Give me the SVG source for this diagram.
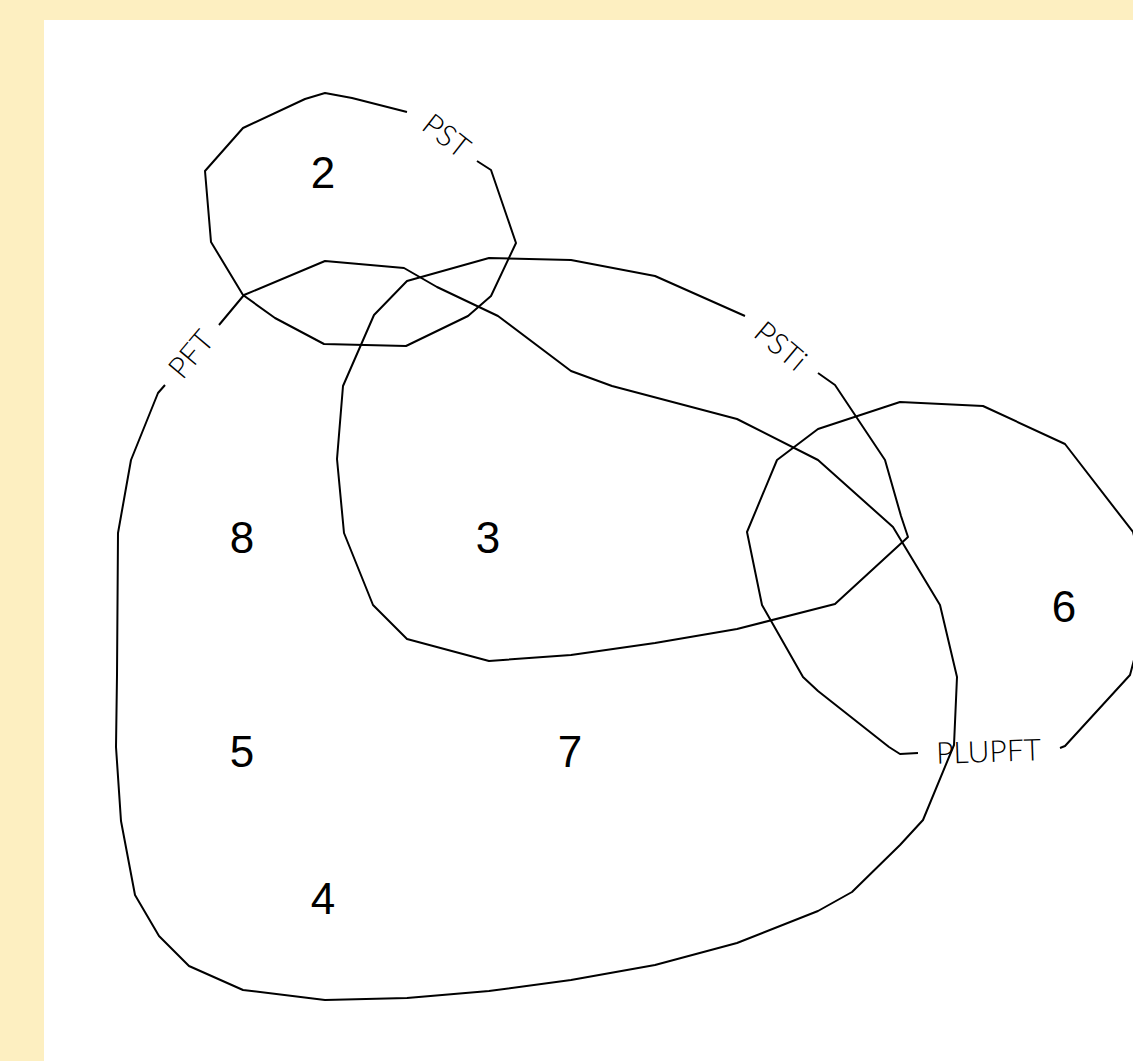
<svg xmlns="http://www.w3.org/2000/svg" width="1133" height="1061" viewBox="0 0 1133 1061">
<style>
.s{fill:none;stroke:#000;stroke-width:2;stroke-linejoin:round}
.n{font-family:"Liberation Sans",Arial,sans-serif;font-size:44px;fill:#000;text-anchor:middle}
.l{font-family:"Lato","Liberation Sans",sans-serif;font-weight:300;font-size:30px;fill:#000;text-anchor:middle}
</style>
<rect width="1133" height="1061" fill="#fdefc1"/>
<rect x="44" y="20" width="1089" height="1041" fill="#fff"/>
<g id="connectors">
<g id="PST">
<polyline class="s" points="407,112 352,98 325,93 305,99 243,128 205,171 211,242 243,295 275,318 324,344 406,346 468,316 491,296 516,243 491,170 477,161"/>
<text class="l" transform="translate(440,144) rotate(38)">PST</text>
</g>
<g id="PFT">
<polyline class="s" points="219,325 244,295 325,261 404,268 437,287 498,316 571,371 612,386 737,419 818,460 893,527 940,605 957,677 954,745 923,820 900,845 852,892 818,911 737,943 655,965 571,980 489,991 407,998 325,1000 243,990 189,966 159,936 135,895 121,821 116,747 117,675 118,533 131,460 158,393 165,385"/>
<text class="l" transform="translate(199,361) rotate(-50)">PFT</text>
</g>
<g id="PSTi">
<polyline class="s" points="745,316 655,276 571,260 489,258 407,281 374,315 343,386 337,459 344,533 373,605 407,639 489,661 571,655 655,643 737,629 835,604 908,537 901,516 885,460 835,385 818,373"/>
<text class="l" transform="translate(774,354) rotate(40)">PSTi</text>
</g>
<g id="PLUPFT">
<polyline class="s" points="1060,748 1065,746 1130,675 1150,600 1133,532 1065,444 983,406 900,402 818,429 777,460 747,532 762,605 803,677 818,691 889,747 900,754 918,753"/>
<text class="l" transform="translate(989,762) rotate(-2)">PLUPFT</text>
</g>
</g>
<g id="regions">
<text id="r2" class="n" x="323" y="188">2</text>
<text id="r8" class="n" x="242" y="553">8</text>
<text id="r3" class="n" x="488" y="553">3</text>
<text id="r6" class="n" x="1064" y="622">6</text>
<text id="r5" class="n" x="242" y="767">5</text>
<text id="r7" class="n" x="570" y="767">7</text>
<text id="r4" class="n" x="323" y="914">4</text>
</g>
</svg>
